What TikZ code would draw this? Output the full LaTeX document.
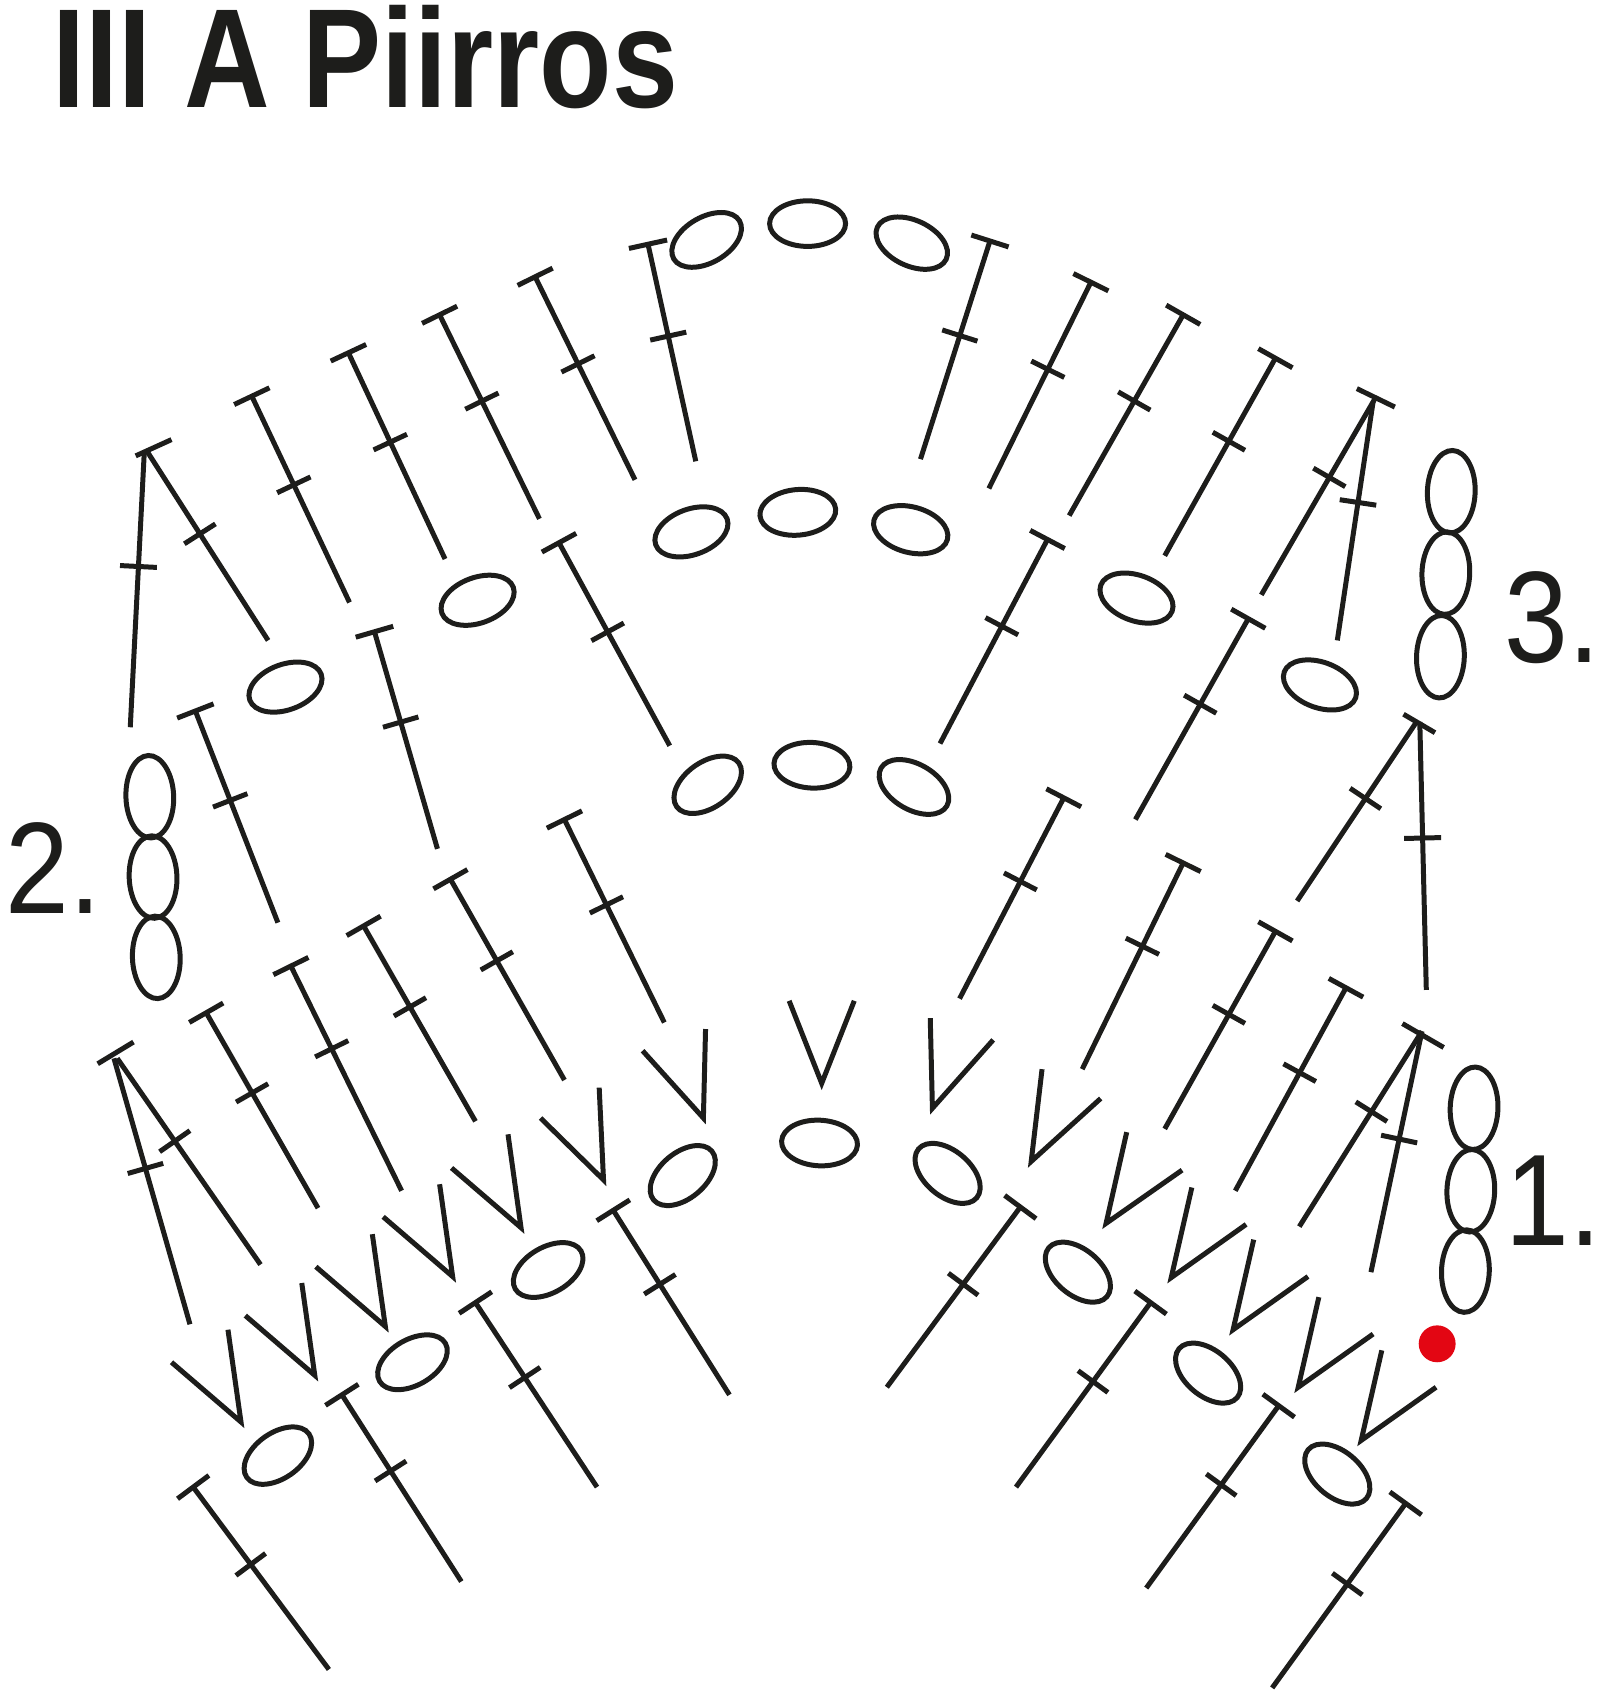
\documentclass[tikz,border=0pt]{standalone}
\usepackage{fontspec}
\setmainfont{Liberation Sans}
\usetikzlibrary{calc}
\definecolor{ink}{HTML}{1D1D1B}
\definecolor{dot}{HTML}{E30613}
\tikzset{
  yarn/.style={draw=ink,line width=2.3pt},
  titletext/.style={text=ink,inner sep=0pt,anchor=base west,xscale=.84},
  numtext/.style={text=ink,inner sep=0pt,anchor=base west,xscale=.88}
}
% stitch with top bar and cross bar: bottom, top, cross point
\def\st(#1)(#2)(#3);{%
  \draw[yarn] (#1) -- (#2);
  \draw[yarn] ($(#2)!9pt!90:(#1)$) -- ($(#2)!9pt!-90:(#1)$);
  \coordinate (cc) at ($(#1)!(#3)!(#2)$);
  \draw[yarn] ($(cc)!8.5pt!90:(#2)$) -- ($(cc)!8.5pt!-90:(#2)$);
}
% stitch leg of a joined pair: no top bar of its own
\def\lg(#1)(#2)(#3);{%
  \draw[yarn] (#1) -- (#2);
  \coordinate (cc) at ($(#1)!(#3)!(#2)$);
  \draw[yarn] ($(cc)!8.5pt!90:(#2)$) -- ($(cc)!8.5pt!-90:(#2)$);
}
\def\tb(#1)(#2);{\draw[yarn] (#1) -- (#2);}
\def\vv(#1)(#2)(#3);{\draw[yarn,line join=miter] (#2) -- (#1) -- (#3);}
\def\ov(#1)(#2);{\draw[yarn,shift={(#1)},rotate=#2] (0,0) ellipse [x radius=17.5pt,y radius=10.5pt];}
\def\ch(#1)(#2);{\draw[yarn,shift={(#1)},rotate=#2] (0,0) ellipse [x radius=19pt,y radius=11pt];}
\begin{document}
\begin{tikzpicture}[x=.5pt,y=-.5pt]
\useasboundingbox (0,0) rectangle (1474,1568);
% title and numbers
\node[titletext,font=\bfseries\fontsize{65pt}{65pt}\selectfont] (title) at (48,99) {III A Piirros};
\node[numtext,font=\fontsize{60pt}{60pt}\selectfont] (n3) at (1386,610) {3.};
\node[numtext,font=\fontsize{60pt}{60pt}\selectfont] (n2) at (5,842) {2.};
\node[numtext,font=\fontsize{60pt}{60pt}\selectfont] (n1) at (1387,1147) {1.};
% top row
\st(641,425)(597,225)(614,310);
\st(585,442)(493,255)(533,335);
\st(497,478)(405,290)(443,370);
\st(410,515)(321,325)(358,408);
\st(322,555)(232,365)(270,447);
\lg(120,670)(133,415)(130,522);
\lg(247,590)(135,415)(187,490);
\tb(125,420)(158,405);
\st(848,423)(912,222)(887,310);
\st(911,450)(1005,260)(965,340);
\st(985,475)(1090,290)(1046,370);
\st(1073,512)(1175,330)(1133,407);
\lg(1162,548)(1268,365)(1225,440);
\lg(1232,590)(1265,370)(1252,463);
\tb(1250,358)(1285,375);
% middle row
\st(617,687)(515,500)(560,582);
\st(866,685)(965,497)(925,578);
\st(403,782)(345,582)(370,665);
\st(256,850)(180,655)(213,737);
\st(1046,755)(1150,570)(1108,650);
\lg(1195,830)(1305,665)(1260,737);
\lg(1314,912)(1308,665)(1312,772);
\tb(1293,658)(1322,675);
% lower row
\st(612,942)(520,755)(562,832);
\st(520,995)(415,810)(458,885);
\st(438,1033)(335,853)(377,928);
\st(370,1097)(268,890)(308,965);
\st(293,1113)(190,933)(232,1007);
\lg(240,1165)(108,975)(160,1052);
\lg(175,1220)(105,975)(132,1077);
\tb(90,980)(123,960);
\st(884,920)(980,735)(940,812);
\st(997,985)(1090,795)(1053,872);
\st(1073,1040)(1175,858)(1133,935);
\st(1138,1097)(1240,910)(1197,988);
\lg(1197,1130)(1310,950)(1268,1027);
\lg(1263,1172)(1310,950)(1292,1050);
\tb(1292,943)(1330,965);
% bottom row
\st(672,1285)(565,1115)(605,1185);
\st(550,1370)(438,1200)(482,1270);
\st(425,1457)(315,1285)(357,1357);
\st(303,1538)(178,1370)(230,1442);
\st(817,1278)(940,1112)(890,1185);
\st(936,1370)(1060,1200)(1010,1275);
\st(1056,1463)(1178,1295)(1128,1370);
\st(1172,1555)(1295,1385)(1245,1462);
% V stitches
\vv(757,998)(727,922)(787,922);
\vv(648,1030)(592,968)(650,948);
\vv(556,1087)(498,1030)(552,1002);
\vv(480,1131)(416,1076)(468,1045);
\vv(417,1176)(353,1121)(405,1091);
\vv(355,1222)(291,1167)(343,1137);
\vv(290,1267)(226,1212)(278,1182);
\vv(222,1310)(158,1255)(210,1225);
\vv(859,1021)(857,938)(915,958);
\vv(950,1070)(960,985)(1014,1012);
\vv(1019,1127)(1038,1043)(1089,1078);
\vv(1079,1177)(1098,1094)(1148,1128);
\vv(1136,1225)(1155,1142)(1205,1176);
\vv(1196,1278)(1215,1195)(1265,1229);
\vv(1254,1327)(1273,1244)(1323,1278);
% chain ovals
\ov(651,221)(30); \ov(744,206)(0); \ov(840,224)(-25);
\ov(637,490)(20); \ov(735,472)(5); \ov(839,488)(-15);
\ov(652,723)(35); \ov(748,705)(-3); \ov(842,725)(-30);
\ov(440,553)(20); \ov(1047,551)(-20);
\ov(263,633)(20); \ov(1216,631)(-20);
\ch(1337,453)(88); \ch(1332,528)(88); \ch(1327,605)(88);
\ch(138,734)(92); \ch(141,808)(92); \ch(144,882)(92);
\ch(1358,1021)(88); \ch(1355,1097)(88); \ch(1350,1171)(88);
\ov(629,1083)(40); \ov(755,1053)(-3); \ov(873,1081)(-40);
\ov(505,1170)(30); \ov(380,1255)(30); \ov(256,1341)(35);
\ov(993,1172)(-40); \ov(1113,1265)(-40); \ov(1232,1358)(-40);
% start dot
\fill[dot] (1324,1238) circle [radius=8.5pt];
\end{tikzpicture}
\end{document}
